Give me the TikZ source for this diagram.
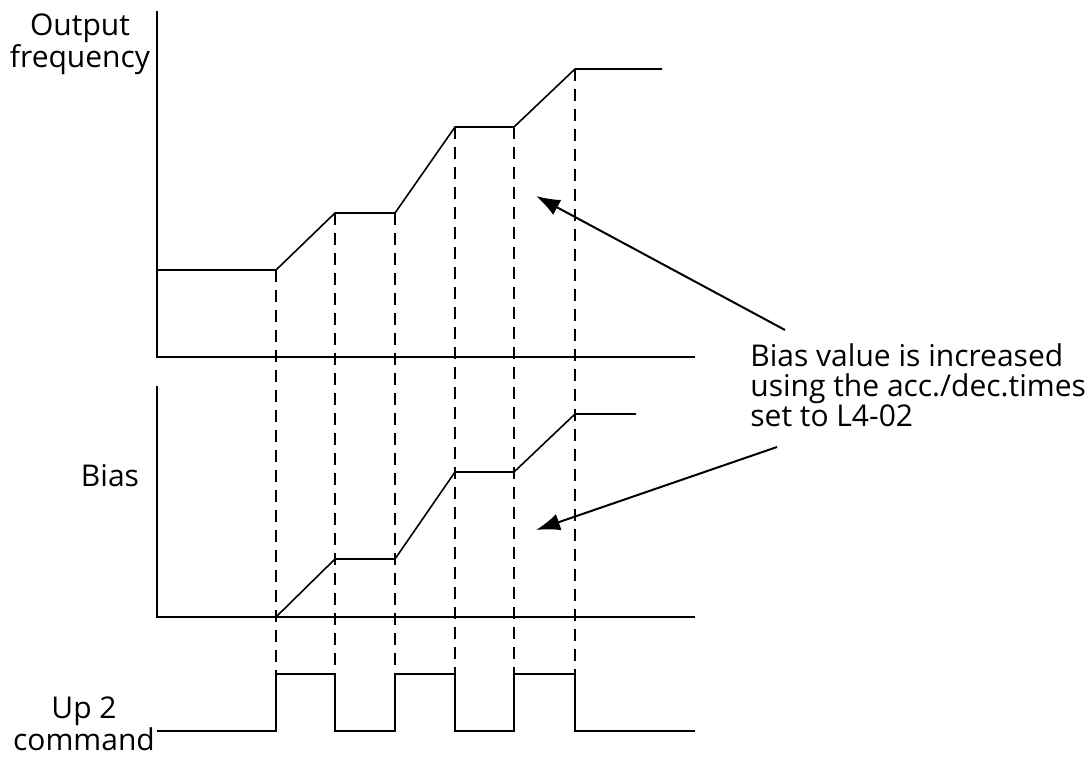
\documentclass[tikz,border=0pt]{standalone}
\usepackage{fontspec}
\setmainfont{Open Sans}
\usetikzlibrary{arrows.meta, positioning, calc}

\begin{document}
\begin{tikzpicture}[x=0.5pt, y=-0.5pt, >={Latex[length=12pt, width=8.5pt]},
    sigtext/.style={font=\fontsize{15}{16}\selectfont, align=center, inner sep=0pt},
    curve/.style={black, line width=0.8pt},
    axisline/.style={black, line width=1pt},
    guide/.style={black, line width=0.7pt, dash pattern=on 6pt off 4pt}]
    \useasboundingbox (0, 0) rectangle (1086, 758);

    % axes
    \draw[axisline] (157, 11) -- (157, 357) -- (695, 357);
    \draw[axisline] (157, 386) -- (157, 617) -- (695, 617);

    % dashed guides
    \foreach \x/\y in {276/270, 335/213, 395/213, 455/127, 514/127, 575/69}
        \draw[guide] (\x, \y) -- (\x, 674);

    % output frequency
    \draw[curve] (157, 270) -- (276, 270) -- (335, 213) -- (395, 213) -- (455, 127)
        -- (514, 127) -- (575, 69) -- (662, 69);
    % bias
    \draw[curve] (276, 617) -- (335, 559) -- (395, 559) -- (455, 472)
        -- (514, 472) -- (575, 414) -- (636, 414);
    % up 2 command
    \draw[curve] (157, 731) -- (276, 731) -- (276, 674) -- (335, 674) -- (335, 731)
        -- (395, 731) -- (395, 674) -- (455, 674) -- (455, 731) -- (514, 731)
        -- (514, 674) -- (575, 674) -- (575, 731) -- (695, 731);

    % labels
    \node[sigtext, anchor=base] (outfreq) at (80, 68) {Output\\frequency};
    \node[sigtext, anchor=base] (bias) at (110, 487) {Bias};
    \node[sigtext, anchor=base] (upcmd) at (84, 750) {Up 2\\command};
    \node[sigtext, anchor=base west, align=left, font=\fontsize{15}{15}\selectfont] (note)
        at (750, 427) {Bias value is increased\\using the acc./dec.times\\set to L4-02};

    % pointers
    \coordinate (tailA) at (785, 330);
    \coordinate (tipA) at (536, 196);
    \coordinate (tailB) at (777, 447);
    \coordinate (tipB) at (536, 530);
    \draw[->, line width=1pt] (tailA) -- (tipA);
    \draw[->, line width=1pt] (tailB) -- (tipB);
\end{tikzpicture}
\end{document}
